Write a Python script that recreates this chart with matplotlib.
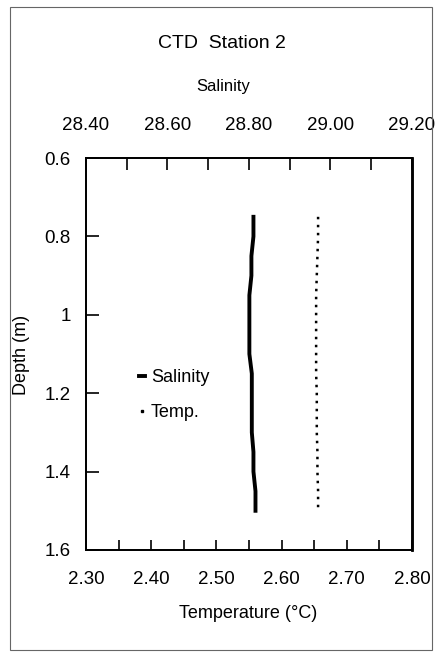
#Important imports
import matplotlib
matplotlib.use("Agg")
import matplotlib.pyplot as plt
from matplotlib.ticker import MultipleLocator, FormatStrFormatter, FuncFormatter
from matplotlib.patches import Rectangle
from matplotlib.lines import Line2D

#CTD profile values
depth = [0.75, 0.80, 0.85, 0.90, 0.95, 1.00, 1.05, 1.10,
         1.15, 1.20, 1.25, 1.30, 1.35, 1.40, 1.45, 1.50]
salinity = [28.811, 28.811, 28.806, 28.806, 28.801, 28.801, 28.801, 28.801,
            28.807, 28.807, 28.807, 28.807, 28.811, 28.811, 28.816, 28.816]
temperature = [2.656, 2.656, 2.655, 2.654, 2.653, 2.653, 2.653, 2.653,
               2.653, 2.654, 2.654, 2.654, 2.655, 2.655, 2.656, 2.656]

plt.rcParams["font.family"] = ["Liberation Sans", "DejaVu Sans"]

fig = plt.figure(figsize=(4.43, 6.57), dpi=100)
ax = fig.add_axes([0.194, 0.1629, 0.736, 0.5966])

#Temperature on the bottom axis
ax.plot(temperature, depth, color="black", lw=1.8, linestyle=(0, (1, 2.2)))
ax.set_xlim(2.30, 2.80)
ax.set_ylim(1.6, 0.6)
ax.xaxis.set_major_locator(MultipleLocator(0.1))
ax.xaxis.set_minor_locator(MultipleLocator(0.05))
ax.xaxis.set_major_formatter(FormatStrFormatter("%.2f"))
ax.yaxis.set_major_locator(MultipleLocator(0.2))
ax.yaxis.set_major_formatter(FuncFormatter(lambda v, p: "%g" % round(v, 2)))
ax.tick_params(axis="x", which="both", direction="in", length=7, width=1.2,
               labelsize=13.5, pad=15, top=False)
ax.tick_params(axis="y", direction="in", length=9.5, width=1.2,
               labelsize=13.5, pad=11, right=False)

#Salinity on the top axis
ax2 = ax.twiny()
ax2.plot(salinity, depth, color="black", lw=2.8)
ax2.set_xlim(28.40, 29.20)
ax2.xaxis.set_major_locator(MultipleLocator(0.2))
ax2.xaxis.set_minor_locator(MultipleLocator(0.1))
ax2.xaxis.set_major_formatter(FormatStrFormatter("%.2f"))
ax2.tick_params(axis="x", which="both", direction="in", length=8.5, width=1.2,
                labelsize=13.5, pad=17)

for a in (ax, ax2):
    for side in ["left", "bottom", "top"]:
        a.spines[side].set_linewidth(1.3)
    a.spines["right"].set_linewidth(1.8)

#Legend inside the plot (short dash and single dot like the original)
sal_handle = Line2D([], [], color="black", lw=2.8)
temp_handle = Line2D([], [], color="black", linestyle="none", marker="s",
                     markersize=1.6)
ax2.legend([sal_handle, temp_handle], ["Salinity", "Temp."], loc="upper left",
           bbox_to_anchor=(130 / 443, 1 - 360 / 657),
           bbox_transform=fig.transFigure, frameon=False,
           handlelength=0.35, handletextpad=0.3, labelspacing=1.0,
           fontsize=13, borderpad=0)

#Titles and axis labels
fig.text(0.5, 1 - 44 / 657, "CTD  Station 2", ha="center", va="center", fontsize=14)
fig.text(0.505, 1 - 87 / 657, "Salinity", ha="center", va="center", fontsize=12)
fig.text(0.56, 1 - 614 / 657, "Temperature (°C)", ha="center", va="center", fontsize=13)
fig.text(22 / 443, 1 - 355 / 657, "Depth (m)", ha="center", va="center",
         rotation=90, fontsize=13)

#Page frame around the chart
fig.patches.append(Rectangle((10 / 443, 7 / 657), 422 / 443, 643 / 657,
                             transform=fig.transFigure, fill=False,
                             edgecolor="#666666", lw=0.8))

plt.savefig("out.png", dpi=100)
plt.close()
